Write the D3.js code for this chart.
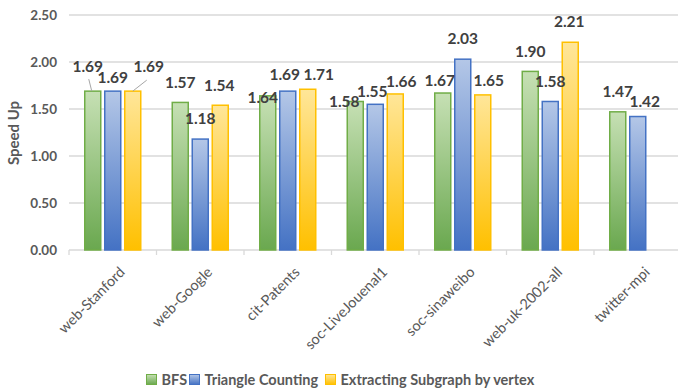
<!DOCTYPE html>
<html><head><meta charset="utf-8">
<script src="https://cdn.jsdelivr.net/npm/d3@7"></script>
<style>body{margin:0;background:#fff}</style>
</head><body>
<svg id="c" width="678" height="390"></svg>
<script>
const categories = ["web-Stanford","web-Google","cit-Patents","soc-LiveJouenal1","soc-sinaweibo","web-uk-2002-all","twitter-mpi"];
const seriesNames = ["BFS","Triangle Counting","Extracting Subgraph by vertex"];
const bfs = [1.69,1.57,1.64,1.58,1.67,1.90,1.47];
const triangle = [1.69,1.18,1.69,1.55,2.03,1.58,1.42];
const extracting = [1.69,1.54,1.71,1.66,1.65,2.21,null];
const yTicks = [0,0.5,1.0,1.5,2.0,2.5];

// label nudges (layout only): [dx, dy] relative to bar center / bar top
const labelNudge = [
  [[-5,-19],[0,-8],[16,-19]],
  [[0,-14],[0,-15],[-1,-14]],
  [[-5,7],[-3,-11],[11,-9]],
  [[-11,6],[-3,-7],[6,-7]],
  [[-3,-7],[0,-15],[6,-9]],
  [[0,-14],[0,-14],[-1,-15]],
  [[0,-15],[7,-10],[0,0]]
];

const svg = d3.select("#c");
const series = [bfs, triangle, extracting];
const colors = [
  {top:"#c6e0b4", bot:"#6aa84f", stroke:"#70ad47"},
  {top:"#b4c7e7", bot:"#4472c4", stroke:"#4472c4"},
  {top:"#ffe699", bot:"#ffc000", stroke:"#ffc000"}
];
const defs = svg.append("defs");
colors.forEach((c,i)=>{
  const g = defs.append("linearGradient").attr("id","g"+i).attr("x1",0).attr("y1",0).attr("x2",0).attr("y2",1);
  g.append("stop").attr("offset","0%").attr("stop-color",c.top);
  g.append("stop").attr("offset","100%").attr("stop-color",c.bot);
});

const x0 = d3.scaleBand().domain(categories).range([69, 681.5]).padding(0);
const x1 = d3.scaleBand().domain([0,1,2]).range([0,56]).paddingInner(0.2).paddingOuter(0);
const y = d3.scaleLinear().domain([0,2.5]).range([250,15]);
const groupOff = (x0.bandwidth()-56)/2;

// gridlines
svg.append("g").selectAll("line").data(yTicks).join("line")
  .attr("x1",69).attr("x2",678).attr("y1",d=>y(d)).attr("y2",d=>y(d))
  .attr("stroke","#d9d9d9").attr("stroke-width",1.3);

// y tick labels
svg.append("g").selectAll("text").data(yTicks).join("text")
  .attr("x",57).attr("y",d=>y(d)+4.5).attr("text-anchor","end")
  .attr("font-family","Lato").attr("font-weight","bold").attr("font-size",13.5).attr("fill","#595959")
  .text(d=>d3.format(".2f")(d));

// category ticks
const bounds = categories.map(c=>x0(c)).concat([x0(categories[6])+x0.bandwidth()]);
svg.append("g").selectAll("line").data(bounds).join("line")
  .attr("x1",d=>d).attr("x2",d=>d).attr("y1",250).attr("y2",255)
  .attr("stroke","#d9d9d9").attr("stroke-width",1.3);

// bars
series.forEach((vals,si)=>{
  svg.append("g").selectAll("rect").data(vals.map((v,i)=>({v,i})).filter(d=>d.v!=null)).join("rect")
    .attr("x",d=>x0(categories[d.i])+groupOff+x1(si))
    .attr("y",d=>y(d.v))
    .attr("width",x1.bandwidth())
    .attr("height",d=>y(0)-y(d.v))
    .attr("fill","url(#g"+si+")")
    .attr("stroke",colors[si].stroke).attr("stroke-width",1.5);
});

// leader lines (web-Stanford)
const bw = x1.bandwidth();
function barCx(ci,si){return x0(categories[ci])+groupOff+x1(si)+bw/2;}
svg.append("line").attr("x1",barCx(0,0)-4).attr("y1",y(bfs[0])-12).attr("x2",barCx(0,0)-1).attr("y2",y(bfs[0]))
  .attr("stroke","#a6a6a6").attr("stroke-width",1);
svg.append("line").attr("x1",barCx(0,2)+14).attr("y1",y(extracting[0])-11).attr("x2",barCx(0,2)).attr("y2",y(extracting[0]))
  .attr("stroke","#a6a6a6").attr("stroke-width",1);

// labels
series.forEach((vals,si)=>{
  svg.append("g").selectAll("text").data(vals.map((v,i)=>({v,i})).filter(d=>d.v!=null)).join("text")
    .attr("x",d=>barCx(d.i,si)+labelNudge[d.i][si][0])
    .attr("y",d=>y(d.v)+labelNudge[d.i][si][1])
    .attr("text-anchor","middle")
    .attr("font-family","Lato").attr("font-weight","bold").attr("font-size",15.5).attr("fill","#404040")
    .text(d=>d3.format(".2f")(d.v));
});

// category labels
svg.append("g").selectAll("text").data(categories).join("text")
  .attr("transform",d=>`translate(${x0(d)+x0.bandwidth()/2+13},${273}) rotate(-45)`)
  .attr("text-anchor","end")
  .attr("font-family","Lato").attr("font-size",14.5).attr("fill","#595959")
  .text(d=>d);

// y axis title
svg.append("text").attr("transform","translate(19,133) rotate(-90)").attr("text-anchor","middle")
  .attr("font-family","Lato").attr("font-weight","bold").attr("font-size",15).attr("fill","#595959")
  .text("Speed Up");

// legend
const legX = [146, 189, 325];
const lg = svg.append("g");
seriesNames.forEach((n,i)=>{
  lg.append("rect").attr("x",legX[i]+0.5).attr("y",374.5).attr("width",10).attr("height",10)
    .attr("fill","url(#g"+i+")").attr("stroke",colors[i].stroke).attr("stroke-width",1);
  lg.append("text").attr("x",legX[i]+15.5).attr("y",384.5)
    .attr("font-family","Lato").attr("font-weight","bold").attr("font-size",14.5).attr("fill","#595959")
    .text(n);
});
</script>
</body></html>
